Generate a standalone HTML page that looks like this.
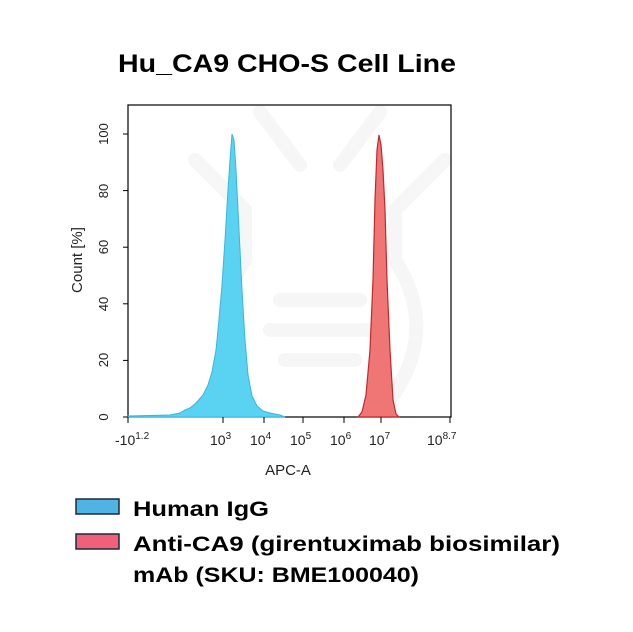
<!DOCTYPE html>
<html><head><style>
html,body{margin:0;padding:0;background:#fff;}
svg{display:block;}
</style></head><body>
<svg width="633" height="632" viewBox="0 0 633 632" xmlns="http://www.w3.org/2000/svg">
<rect width="633" height="632" fill="#fff"/>
<g stroke="#f6f6f6" stroke-width="14" fill="none" stroke-linecap="round">
<path d="M260 112 L300 165"/><path d="M380 112 L340 165"/>
<path d="M195 160 L245 210 L245 260"/><path d="M445 160 L395 210 L395 260"/>
<path d="M245 260 Q200 330 250 400"/><path d="M395 260 Q440 330 390 400"/>
<path d="M280 300 L360 300"/><path d="M270 330 L370 330"/><path d="M285 360 L355 360"/>
</g>
<text x="287" y="72" text-anchor="middle" font-family="Liberation Sans, sans-serif" font-weight="bold" font-size="25" textLength="338" lengthAdjust="spacingAndGlyphs">Hu_CA9 CHO-S Cell Line</text>
<rect x="128" y="105" width="323" height="312" fill="none" stroke="#000" stroke-width="1.2"/>
<path d="M128 416 L170 415 L180 413 L185 410 L190 408 L196 403 L203 395 L208 385 L212 372 L216 350 L219 320 L222 285 L225 240 L228 190 L230 160 L232 134 L234 140 L236 170 L238 210 L240 250 L242 290 L245 340 L248 375 L252 396 L257 406 L263 411 L270 413 L280 415 L285 417 L128 417 Z" fill="#5ad3f2" stroke="#3bb4dc" stroke-width="1"/>
<path d="M358 417 L362 412 L366 395 L370 350 L373 280 L375 200 L377 150 L379 135 L381 145 L383 170 L385 210 L387 280 L390 350 L393 400 L396 414 L399 417 Z" fill="#f07575" stroke="#c0282c" stroke-width="1.2"/>
<g stroke="#000" stroke-width="1">
<line x1="123" y1="417" x2="128" y2="417"/><line x1="123" y1="360.4" x2="128" y2="360.4"/><line x1="123" y1="303.8" x2="128" y2="303.8"/><line x1="123" y1="247.2" x2="128" y2="247.2"/><line x1="123" y1="190.6" x2="128" y2="190.6"/><line x1="123" y1="134" x2="128" y2="134"/>
<line x1="128" y1="417" x2="128" y2="423"/><line x1="223" y1="417" x2="223" y2="423"/><line x1="264" y1="417" x2="264" y2="423"/><line x1="303" y1="417" x2="303" y2="423"/><line x1="344" y1="417" x2="344" y2="423"/><line x1="381" y1="417" x2="381" y2="423"/><line x1="450" y1="417" x2="450" y2="423"/>
</g>
<g font-family="Liberation Sans, sans-serif" font-size="13" fill="#222">
<text transform="translate(108,417) rotate(-90)" text-anchor="middle">0</text>
<text transform="translate(108,360) rotate(-90)" text-anchor="middle">20</text>
<text transform="translate(108,304) rotate(-90)" text-anchor="middle">40</text>
<text transform="translate(108,247) rotate(-90)" text-anchor="middle">60</text>
<text transform="translate(108,191) rotate(-90)" text-anchor="middle">80</text>
<text transform="translate(108,134) rotate(-90)" text-anchor="middle">100</text>
<text transform="translate(82,260) rotate(-90)" text-anchor="middle" font-size="15">Count [%]</text>
<text x="115" y="445" font-size="14">-10<tspan font-size="10" dy="-6">1.2</tspan></text>
<text x="210" y="445" font-size="14">10<tspan font-size="10" dy="-6">3</tspan></text>
<text x="250" y="445" font-size="14">10<tspan font-size="10" dy="-6">4</tspan></text>
<text x="290" y="445" font-size="14">10<tspan font-size="10" dy="-6">5</tspan></text>
<text x="330" y="445" font-size="14">10<tspan font-size="10" dy="-6">6</tspan></text>
<text x="369" y="445" font-size="14">10<tspan font-size="10" dy="-6">7</tspan></text>
<text x="427" y="445" font-size="14">10<tspan font-size="10" dy="-6">8.7</tspan></text>
<text x="288" y="475" text-anchor="middle" font-size="15">APC-A</text>
</g>
<rect x="76" y="499" width="43" height="15" fill="#4fb3e3" stroke="#1a2a3a" stroke-width="1.5"/>
<rect x="76" y="534" width="43" height="15" fill="#f0607a" stroke="#1a2a3a" stroke-width="1.5"/>
<g font-family="Liberation Sans, sans-serif" font-weight="bold" font-size="21" fill="#000">
<text x="133" y="516" textLength="136" lengthAdjust="spacingAndGlyphs">Human IgG</text>
<text x="133" y="551" textLength="427" lengthAdjust="spacingAndGlyphs">Anti-CA9 (girentuximab biosimilar)</text>
<text x="133" y="582" textLength="286" lengthAdjust="spacingAndGlyphs">mAb (SKU: BME100040)</text>
</g>
</svg>
</body></html>
